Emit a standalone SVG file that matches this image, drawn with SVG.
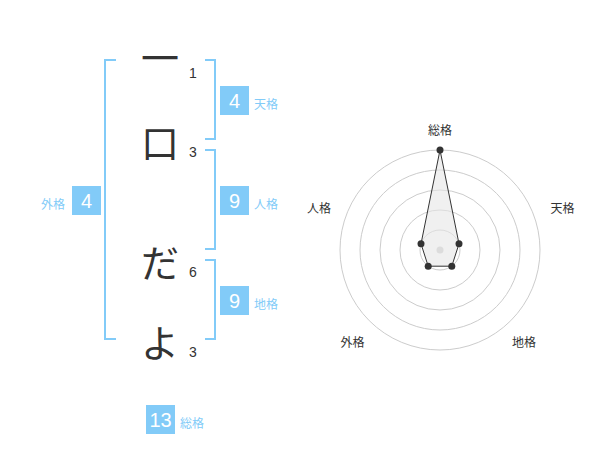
<svg xmlns="http://www.w3.org/2000/svg" width="600" height="470" viewBox="0 0 600 470">
<style>
.big{font-family:"Noto Sans CJK JP","Noto Sans",sans-serif;font-size:38px;fill:#333;text-anchor:middle}
.num{font-family:"Liberation Sans",Arial,sans-serif;font-size:14px;fill:#333}
.br{fill:none;stroke:#82cbf8;stroke-width:2}
.box{fill:#82cbf8}
.bn{font-family:"Liberation Sans",Arial,sans-serif;font-size:20px;fill:#fff;text-anchor:middle}
.bl{font-family:"Noto Sans CJK JP",sans-serif;font-size:12px;fill:#82cbf8}
.ring{fill:none;stroke:#ccc;stroke-width:1}
.rl{font-family:"Noto Sans CJK JP",sans-serif;font-size:12px;fill:#333;text-anchor:middle}
.pt{fill:#333}
</style>
<rect width="600" height="470" fill="#fff"/>
<g id="chars">
<text class="big" x="160" y="72">一</text>
<text class="num" x="189" y="78">1</text>
<text class="big" x="160" y="157">口</text>
<text class="num" x="189" y="157">3</text>
<text class="big" x="160" y="277">だ</text>
<text class="num" x="189" y="277">6</text>
<text class="big" x="160" y="357">よ</text>
<text class="num" x="189" y="357">3</text>
</g>
<g id="connectors">
<path class="br" d="M116,60 H105 V339 H116"/>
<path class="br" d="M205,60 H215 V139 H205"/>
<path class="br" d="M205,150 H215 V249 H205"/>
<path class="br" d="M205,260 H215 V339 H205"/>
</g>
<g id="tenkaku">
<rect class="box" x="220" y="86" width="29" height="29"/>
<text class="bn" x="234.5" y="108">4</text>
<text class="bl" x="254" y="109">天格</text>
</g>
<g id="jinkaku">
<rect class="box" x="220" y="186" width="29" height="29"/>
<text class="bn" x="234.5" y="208">9</text>
<text class="bl" x="254" y="209">人格</text>
</g>
<g id="chikaku">
<rect class="box" x="220" y="286" width="29" height="29"/>
<text class="bn" x="234.5" y="308">9</text>
<text class="bl" x="254" y="309">地格</text>
</g>
<g id="gaikaku">
<rect class="box" x="72" y="186" width="29" height="29"/>
<text class="bn" x="86.5" y="208">4</text>
<text class="bl" x="41" y="209">外格</text>
</g>
<g id="soukaku">
<rect class="box" x="146" y="405" width="29" height="29"/>
<text class="bn" x="160.5" y="427">13</text>
<text class="bl" x="180" y="428">総格</text>
</g>
<g id="radar">
<circle class="ring" cx="440" cy="250" r="100"/>
<circle class="ring" cx="440" cy="250" r="80"/>
<circle class="ring" cx="440" cy="250" r="60"/>
<circle class="ring" cx="440" cy="250" r="40"/>
<circle class="ring" cx="440" cy="250" r="20"/>
<circle cx="440" cy="250" r="3.5" fill="#ccc"/>
<polygon points="440,150 459,243.8 451.8,266.2 428.2,266.2 421,243.8" fill="#e6e6e6" fill-opacity="0.6" stroke="#333" stroke-width="1"/>
<circle class="pt" cx="440" cy="150" r="3.5"/>
<circle class="pt" cx="459" cy="243.8" r="3.5"/>
<circle class="pt" cx="451.8" cy="266.2" r="3.5"/>
<circle class="pt" cx="428.2" cy="266.2" r="3.5"/>
<circle class="pt" cx="421" cy="243.8" r="3.5"/>
<text class="rl" x="440" y="135">総格</text>
<text class="rl" x="562.5" y="213">天格</text>
<text class="rl" x="524" y="347">地格</text>
<text class="rl" x="352.5" y="347">外格</text>
<text class="rl" x="319" y="213">人格</text>
</g>
</svg>
